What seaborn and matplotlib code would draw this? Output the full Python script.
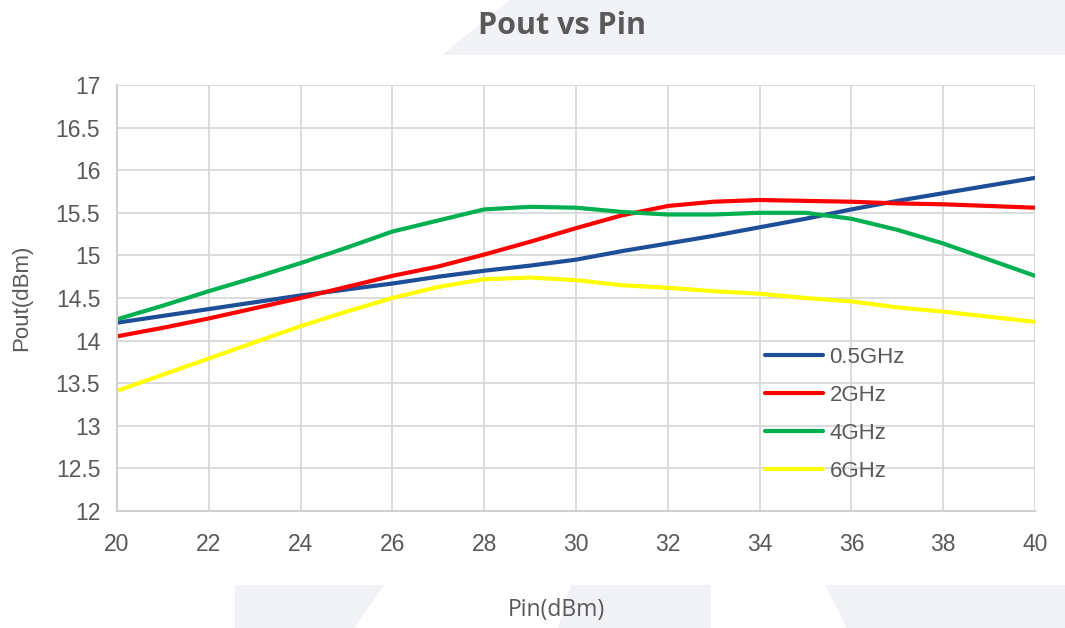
# Pout vs Pin chart, recreated with seaborn

import pandas as pd
import matplotlib
matplotlib.use("Agg")
import matplotlib.pyplot as plt
from matplotlib.patches import Polygon
import seaborn as sns

# data (1 dBm steps)
pin = list(range(20, 41))
pout_05 = [14.21, 14.29, 14.37, 14.45, 14.53, 14.60, 14.67, 14.75, 14.82, 14.88, 14.95,
           15.05, 15.14, 15.23, 15.33, 15.43, 15.54, 15.64, 15.73, 15.82, 15.91]
pout_2 = [14.05, 14.15, 14.26, 14.38, 14.50, 14.63, 14.76, 14.87, 15.01, 15.16, 15.32,
          15.47, 15.58, 15.63, 15.65, 15.64, 15.63, 15.61, 15.60, 15.58, 15.56]
pout_4 = [14.25, 14.41, 14.58, 14.74, 14.91, 15.09, 15.28, 15.41, 15.54, 15.57, 15.56,
          15.51, 15.48, 15.48, 15.50, 15.50, 15.43, 15.30, 15.14, 14.95, 14.76]
pout_6 = [13.41, 13.60, 13.79, 13.98, 14.17, 14.34, 14.50, 14.63, 14.72, 14.74, 14.71,
          14.65, 14.62, 14.58, 14.55, 14.50, 14.46, 14.39, 14.34, 14.28, 14.22]
series = ["0.5GHz", "2GHz", "4GHz", "6GHz"]
colors = ["#1F4E99", "#FF0000", "#00B050", "#FFFF00"]

rows = []
for name, vals in zip(series, [pout_05, pout_2, pout_4, pout_6]):
    for x, y in zip(pin, vals):
        rows.append({"Pin": x, "Pout": y, "freq": name})
df = pd.DataFrame(rows)

sns.set_theme(style="white")
plt.rcParams["font.family"] = ["Liberation Sans", "DejaVu Sans"]

W, H = 1065, 628
fig = plt.figure(figsize=(W / 100, H / 100), dpi=100)
fig.patch.set_facecolor("white")

# light watermark shapes behind the chart (pixel coords)
bg = "#f1f2f6"
shapes = [
    [(442, 55), (510, 0), (1065, 0), (1065, 55)],
    [(235, 585), (384, 585), (354, 628), (235, 628)],
    [(571, 585), (711, 585), (711, 628), (558, 628)],
    [(825, 585), (1065, 585), (1065, 628), (847, 628)],
]
for pts in shapes:
    fpts = [(px / W, 1 - py / H) for px, py in pts]
    fig.patches.append(Polygon(fpts, closed=True, transform=fig.transFigure,
                               facecolor=bg, edgecolor="none", zorder=0))

ax = fig.add_axes([117 / W, 1 - 511 / H, (1035 - 117) / W, (511 - 85) / H])
ax.set_zorder(2)
ax.set_facecolor("white")

sns.lineplot(data=df, x="Pin", y="Pout", hue="freq", hue_order=series,
             palette=dict(zip(series, colors)), linewidth=3, ax=ax)
for ln in ax.get_lines():
    ln.set_solid_capstyle("round")
    ln.set_solid_joinstyle("round")

ax.set_xlim(20, 40)
ax.set_ylim(12, 17)
ax.set_xticks(range(20, 41, 2))
yt = [12 + 0.5 * i for i in range(11)]
ax.set_yticks(yt)
ax.set_yticklabels([f"{v:g}" for v in yt])
ax.grid(True, color="#d9d9d9", linewidth=1.3)
for s in ["top", "right"]:
    ax.spines[s].set_visible(False)
for s in ["left", "bottom"]:
    ax.spines[s].set_color("#d0d0d0")
    ax.spines[s].set_linewidth(1.5)
ax.tick_params(axis="both", length=0, labelsize=16.5, labelcolor="#595959")
ax.tick_params(axis="x", pad=16)
ax.tick_params(axis="y", pad=12)

ax.set_xlabel("Pin(dBm)", fontsize=16.5, color="#595959", family="Open Sans", va="center")
ax.xaxis.set_label_coords((556 - 117) / (1035 - 117), (511 - 610) / (511 - 85))
ax.set_ylabel("Pout(dBm)", fontsize=16, color="#595959", va="center")
ax.yaxis.set_label_coords((22 - 117) / (1035 - 117), 0.5)

fig.text(562 / W, 1 - 26 / H, "Pout vs Pin", ha="center", va="center",
         fontsize=22, fontweight="bold", color="#595959", family="Open Sans")

leg = ax.legend(loc="upper left", bbox_to_anchor=(765 / W, 1 - 347 / H),
                bbox_transform=fig.transFigure, frameon=False, fontsize=16,
                handlelength=2.6, handletextpad=0.3, labelspacing=0.76,
                borderpad=0, borderaxespad=0)
for t in leg.get_texts():
    t.set_color("#595959")
for h in leg.get_lines():
    h.set_linewidth(3)
    h.set_solid_capstyle("round")

fig.savefig("out.png", dpi=100, facecolor="white")
